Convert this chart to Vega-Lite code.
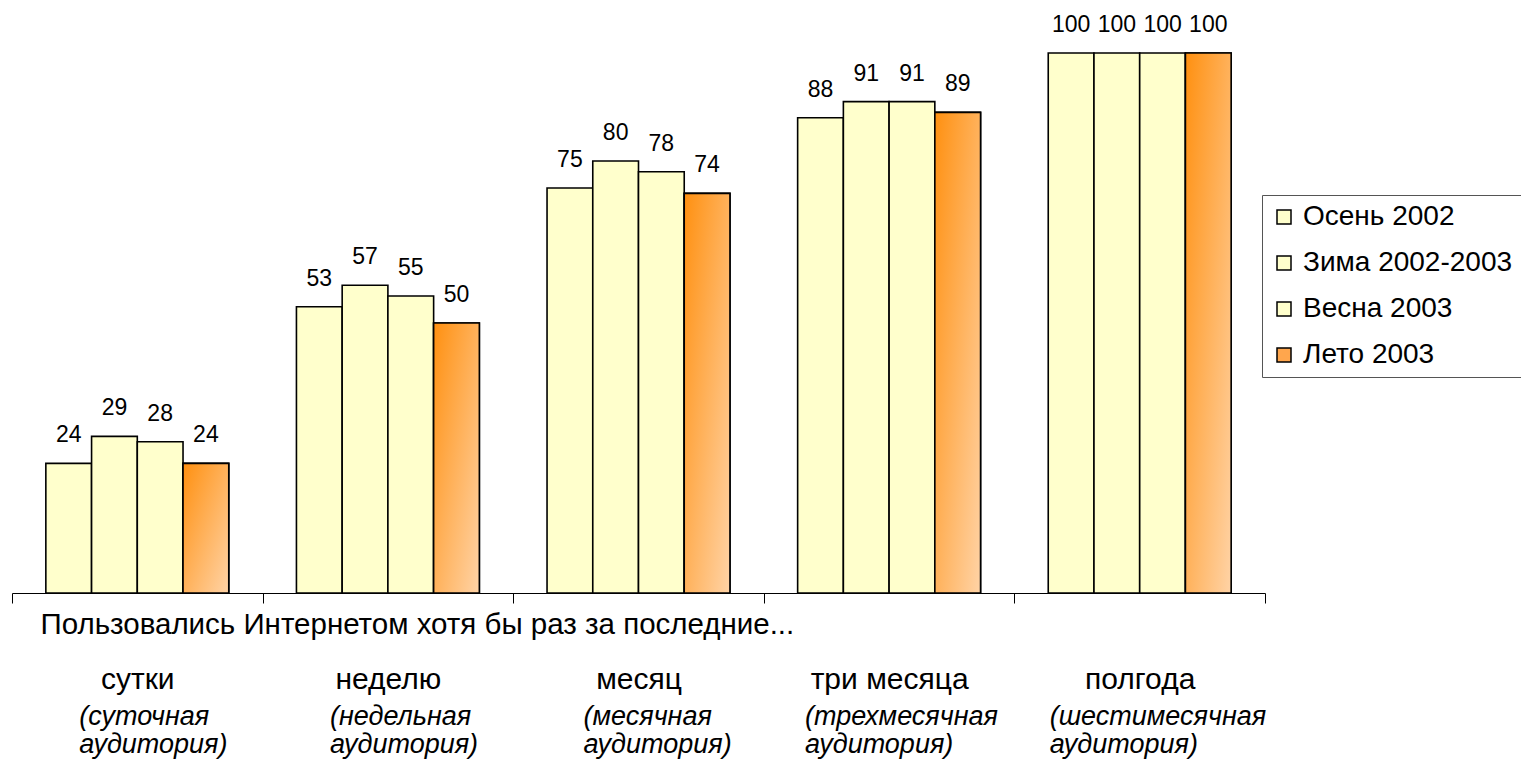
{
  "$schema": "https://vega.github.io/schema/vega-lite/v6.json",
  "autosize": "none",
  "width": 1253,
  "height": 540,
  "padding": {"left": 12, "top": 53, "right": 256, "bottom": 169},
  "background": "white",
  "config": {"view": {"stroke": null}, "font": "Liberation Sans"},
  "data": {"values": [
    {"cat": "сутки", "season": "Осень 2002", "value": 24},
    {"cat": "сутки", "season": "Зима 2002-2003", "value": 29},
    {"cat": "сутки", "season": "Весна 2003", "value": 28},
    {"cat": "сутки", "season": "Лето 2003", "value": 24},
    {"cat": "неделю", "season": "Осень 2002", "value": 53},
    {"cat": "неделю", "season": "Зима 2002-2003", "value": 57},
    {"cat": "неделю", "season": "Весна 2003", "value": 55},
    {"cat": "неделю", "season": "Лето 2003", "value": 50},
    {"cat": "месяц", "season": "Осень 2002", "value": 75},
    {"cat": "месяц", "season": "Зима 2002-2003", "value": 80},
    {"cat": "месяц", "season": "Весна 2003", "value": 78},
    {"cat": "месяц", "season": "Лето 2003", "value": 74},
    {"cat": "три месяца", "season": "Осень 2002", "value": 88},
    {"cat": "три месяца", "season": "Зима 2002-2003", "value": 91},
    {"cat": "три месяца", "season": "Весна 2003", "value": 91},
    {"cat": "три месяца", "season": "Лето 2003", "value": 89},
    {"cat": "полгода", "season": "Осень 2002", "value": 100},
    {"cat": "полгода", "season": "Зима 2002-2003", "value": 100},
    {"cat": "полгода", "season": "Весна 2003", "value": 100},
    {"cat": "полгода", "season": "Лето 2003", "value": 100}
  ]},
  "encoding": {
    "x": {"field": "cat", "type": "nominal", "sort": null,
          "scale": {"paddingInner": 0, "paddingOuter": 0}},
    "xOffset": {"field": "season", "type": "nominal", "sort": ["Осень 2002", "Зима 2002-2003", "Весна 2003", "Лето 2003"],
                "scale": {"domain": ["Осень 2002", "Зима 2002-2003", "Весна 2003", "Лето 2003"], "paddingInner": 0, "paddingOuter": 0.74}},
    "y": {"field": "value", "type": "quantitative", "scale": {"domain": [0, 100], "nice": false, "zero": true}, "axis": null}
  },
  "layer": [
    {
      "mark": {"type": "bar", "stroke": "black", "strokeWidth": 1.6},
      "encoding": {
        "x": {"field": "cat", "type": "nominal", "sort": null,
              "scale": {"paddingInner": 0, "paddingOuter": 0},
              "axis": {
                "orient": "bottom",
                "domainColor": "black", "domainWidth": 1,
                "tickBand": "extent", "tickColor": "black", "tickSize": 10, "tickWidth": 1,
                "labelAngle": 0, "labelFontSize": 30, "labelColor": "black",
                "labelBaseline": "alphabetic", "labelPadding": 85,
                "labelOverlap": false, "labelFlush": false, "labelBound": false, "labelLimit": 400,
                "title": "Пользовались Интернетом хотя бы раз за последние...",
                "titleFontSize": 29.5, "titleFontWeight": "normal", "titleColor": "black",
                "titleAnchor": "start", "titleAlign": "left", "titleBaseline": "alphabetic",
                "titleX": 28, "titleY": 40, "titleLimit": 1000
              }},
        "fill": {
          "field": "season", "type": "nominal",
          "sort": ["Осень 2002", "Зима 2002-2003", "Весна 2003", "Лето 2003"],
          "scale": {"domain": ["Осень 2002", "Зима 2002-2003", "Весна 2003", "Лето 2003"],
                    "range": ["#FFFFCC", "#FFFFCC", "#FFFFCC", "#FFA64D"]},
          "legend": {
            "title": null, "orient": "none", "legendX": 1250, "legendY": 142,
            "strokeColor": "#555555", "padding": 8,
            "symbolType": "square", "symbolSize": 196, "symbolStrokeColor": "black", "symbolStrokeWidth": 1.5,
            "symbolOpacity": 1,
            "labelFontSize": 28, "labelColor": "black", "labelOffset": 5, "rowPadding": 18,
            "labelLimit": 400
          }
        }
      }
    },
    {
      "transform": [{"filter": "datum.season === 'Лето 2003'"}],
      "mark": {"type": "bar", "stroke": "black", "strokeWidth": 1.6,
               "fill": {"gradient": "linear", "x1": 0, "y1": 0, "x2": 1, "y2": 1,
                        "stops": [{"offset": 0, "color": "#FF9010"}, {"offset": 1, "color": "#FFD3A6"}]}},
      "encoding": {
        "x": {"field": "cat", "type": "nominal", "sort": null,
              "scale": {"paddingInner": 0, "paddingOuter": 0}, "axis": null}
      }
    },
    {
      "mark": {"type": "text", "baseline": "alphabetic", "dy": -21, "fontSize": 23, "color": "black"},
      "encoding": {
        "x": {"field": "cat", "type": "nominal", "sort": null,
              "scale": {"paddingInner": 0, "paddingOuter": 0},
              "axis": {
                "orient": "bottom", "domain": false, "ticks": false,
                "labelAngle": 0, "labelFontSize": 27, "labelFontStyle": "italic", "labelColor": "black",
                "labelAlign": "left",
                "labelOffset": {"condition": [
                  {"test": "datum.value == 'три месяца'", "value": -84},
                  {"test": "datum.value == 'полгода'", "value": -90},
                  {"test": "datum.value == 'месяц'", "value": -55}
                ], "value": -58},
                "labelBaseline": "alphabetic", "labelPadding": 131, "labelLineHeight": 28,
                "labelOverlap": false, "labelFlush": false, "labelBound": false, "labelLimit": 400,
                "labelExpr": "datum.value == 'сутки' ? ['(суточная', 'аудитория)'] : datum.value == 'неделю' ? ['(недельная', 'аудитория)'] : datum.value == 'месяц' ? ['(месячная', 'аудитория)'] : datum.value == 'три месяца' ? ['(трехмесячная', 'аудитория)'] : ['(шестимесячная', 'аудитория)']",
                "title": null
              }},
        "text": {"field": "value", "type": "quantitative"}
      }
    }
  ],
  "resolve": {"axis": {"x": "independent"}}
}
